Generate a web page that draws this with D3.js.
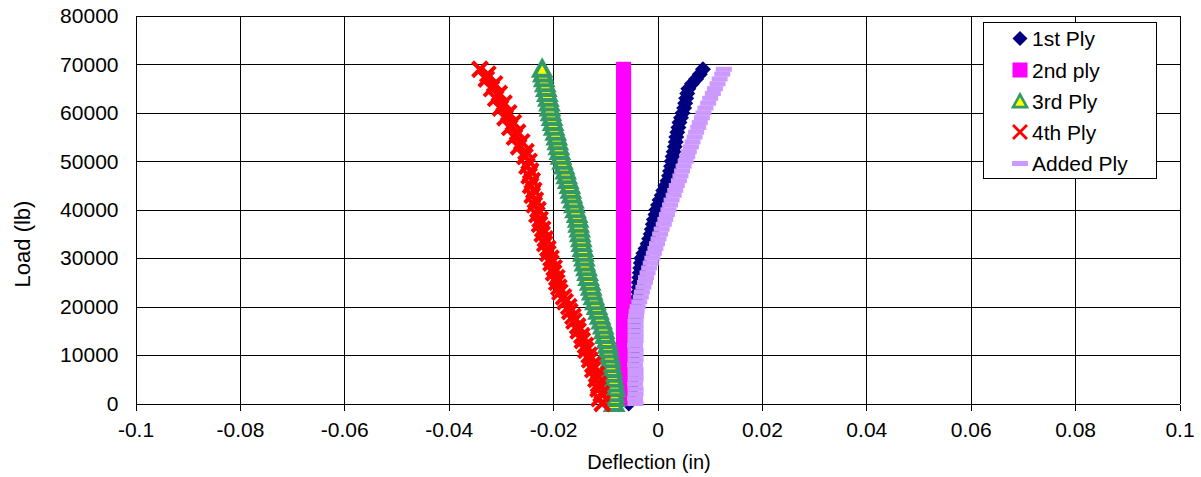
<!DOCTYPE html>
<html>
<head>
<meta charset="utf-8">
<script src="https://cdn.jsdelivr.net/npm/d3@7"></script>
<style>
  html, body { margin: 0; padding: 0; background: #fff; }
  svg { display: block; font-family: "Liberation Sans", Arial, sans-serif; }
</style>
</head>
<body>
<svg id="chart" width="1201" height="477"></svg>
<script>
// ---- data (load in lb, deflection in in) ----
const loads = [0,1000,2000,3000,4000,5000,6000,7000,8000,9000,10000,11000,12000,13000,14000,15000,16000,17000,18000,19000,
  20000,21000,22000,23000,24000,25000,26000,27000,28000,29000,30000,31000,32000,33000,34000,35000,36000,37000,38000,39000,
  40000,41000,42000,43000,44000,45000,46000,47000,48000,49000,50000,51000,52000,53000,54000,55000,56000,57000,58000,59000,
  60000,61000,62000,63000,64000,65000,66000,67000,68000,69000];

const ply1 = [-0.0055,-0.0052,-0.0050,-0.0049,-0.0048,-0.0048,-0.0047,-0.0047,-0.0046,-0.0046,
  -0.0046,-0.0045,-0.0045,-0.0044,-0.0044,-0.0044,-0.0043,-0.0043,-0.0042,-0.0042,
  -0.0041,-0.0040,-0.0038,-0.0037,-0.0036,-0.0036,-0.0035,-0.0034,-0.0033,-0.0032,
  -0.0031,-0.0027,-0.0023,-0.0019,-0.0016,-0.0013,-0.0011,-0.0009,-0.0007,-0.0004,
  -0.0002,0.0001,0.0004,0.0008,0.0011,0.0015,0.0019,0.0022,0.0024,0.0026,
  0.0027,0.0029,0.0031,0.0033,0.0035,0.0036,0.0038,0.0040,0.0042,0.0045,
  0.0048,0.0051,0.0053,0.0055,0.0057,0.0059,0.0066,0.0074,0.0081,0.0087];

const loads2 = [1000,2000,3000,4000,5000,6000,7000,8000,9000,10000,11000,12000,13000,14000,15000,16000,17000,18000,19000,
  20000,21000,22000,23000,24000,25000,26000,27000,28000,29000,30000,31000,32000,33000,34000,35000,36000,37000,38000,39000,
  40000,41000,42000,43000,44000,45000,46000,47000,48000,49000,50000,51000,52000,53000,54000,55000,56000,57000,58000,59000,
  60000,61000,62000,63000,64000,65000,66000,67000,68000,69000];
const ply2 = [-0.0065,-0.0065,-0.0065,-0.0065,-0.0065,-0.0065,-0.0065,-0.0065,-0.0065,-0.0065,
  -0.0065,-0.0065,-0.0065,-0.0065,-0.0065,-0.0065,-0.0065,-0.0065,-0.0065,-0.0065,
  -0.0065,-0.0065,-0.0065,-0.0065,-0.0065,-0.0065,-0.0065,-0.0065,-0.0065,-0.0065,
  -0.0065,-0.0065,-0.0065,-0.0065,-0.0065,-0.0065,-0.0065,-0.0065,-0.0065,-0.0065,
  -0.0065,-0.0065,-0.0065,-0.0065,-0.0065,-0.0065,-0.0065,-0.0065,-0.0065,-0.0065,
  -0.0065,-0.0065,-0.0065,-0.0065,-0.0065,-0.0065,-0.0065,-0.0065,-0.0065,-0.0065,
  -0.0065,-0.0065,-0.0065,-0.0065,-0.0065,-0.0065,-0.0065,-0.0065,-0.0065];

const ply3 = [-0.0083,-0.0082,-0.0083,-0.0081,-0.0083,-0.0084,-0.0086,-0.0087,-0.0089,-0.0090,
  -0.0092,-0.0094,-0.0095,-0.0097,-0.0100,-0.0102,-0.0104,-0.0107,-0.0110,-0.0113,
  -0.0116,-0.0119,-0.0122,-0.0125,-0.0127,-0.0129,-0.0132,-0.0134,-0.0136,-0.0139,
  -0.0140,-0.0142,-0.0143,-0.0145,-0.0146,-0.0148,-0.0149,-0.0151,-0.0152,-0.0154,
  -0.0157,-0.0159,-0.0161,-0.0164,-0.0166,-0.0168,-0.0171,-0.0174,-0.0176,-0.0179,
  -0.0182,-0.0185,-0.0187,-0.0189,-0.0191,-0.0193,-0.0195,-0.0198,-0.0200,-0.0202,
  -0.0204,-0.0206,-0.0207,-0.0209,-0.0211,-0.0213,-0.0215,-0.0217,-0.0219,-0.0221];

const ply4 = [-0.0106,-0.0112,-0.0108,-0.0114,-0.0113,-0.0118,-0.0117,-0.0124,-0.0124,-0.0130,
  -0.0131,-0.0137,-0.0138,-0.0144,-0.0145,-0.0152,-0.0153,-0.0160,-0.0162,-0.0168,
  -0.0170,-0.0177,-0.0180,-0.0187,-0.0189,-0.0193,-0.0193,-0.0199,-0.0198,-0.0204,
  -0.0204,-0.0210,-0.0210,-0.0216,-0.0215,-0.0221,-0.0220,-0.0226,-0.0225,-0.0231,
  -0.0229,-0.0236,-0.0234,-0.0240,-0.0237,-0.0243,-0.0240,-0.0246,-0.0243,-0.0250,
  -0.0246,-0.0254,-0.0252,-0.0266,-0.0260,-0.0274,-0.0268,-0.0283,-0.0276,-0.0292,
  -0.0285,-0.0301,-0.0294,-0.0310,-0.0303,-0.0318,-0.0312,-0.0328,-0.0325,-0.0340];

const plyAdded = [-0.0042,-0.0043,-0.0042,-0.0042,-0.0043,-0.0042,-0.0042,-0.0042,-0.0043,-0.0042,
  -0.0042,-0.0042,-0.0043,-0.0042,-0.0042,-0.0042,-0.0042,-0.0042,-0.0041,-0.0040,
  -0.0038,-0.0035,-0.0032,-0.0030,-0.0027,-0.0024,-0.0022,-0.0019,-0.0016,-0.0013,
  -0.0010,-0.0007,-0.0004,-0.0001,0.0002,0.0005,0.0008,0.0012,0.0015,0.0018,
  0.0021,0.0024,0.0027,0.0031,0.0034,0.0037,0.0041,0.0044,0.0047,0.0050,
  0.0054,0.0057,0.0060,0.0064,0.0067,0.0071,0.0074,0.0078,0.0081,0.0085,
  0.0088,0.0092,0.0097,0.0101,0.0106,0.0110,0.0115,0.0119,0.0124,0.0127];

const seriesNames = ["1st Ply", "2nd ply", "3rd Ply", "4th Ply", "Added Ply"];
const xTicks = [-0.1, -0.08, -0.06, -0.04, -0.02, 0, 0.02, 0.04, 0.06, 0.08, 0.1];
const xTickLabels = ["-0.1", "-0.08", "-0.06", "-0.04", "-0.02", "0", "0.02", "0.04", "0.06", "0.08", "0.1"];
const yTicks = [0, 10000, 20000, 30000, 40000, 50000, 60000, 70000, 80000];
const yTickLabels = ["0", "10000", "20000", "30000", "40000", "50000", "60000", "70000", "80000"];

// ---- layout ----
const svg = d3.select("#chart");
const L = 135.5, R = 1179.5, T = 16, B = 403.5;
const x = d3.scaleLinear().domain([-0.1, 0.1]).range([L, R]);
const y = d3.scaleLinear().domain([0, 80000]).range([B, T]);

svg.append("rect").attr("width", 1201).attr("height", 477).attr("fill", "#fff");

// gridlines
const grid = svg.append("g").attr("stroke", "#000").attr("stroke-width", 1).attr("shape-rendering", "crispEdges");
yTicks.forEach(v => grid.append("line").attr("x1", L).attr("x2", R).attr("y1", Math.round(y(v)) + 0.5).attr("y2", Math.round(y(v)) + 0.5));
xTicks.forEach(v => grid.append("line").attr("y1", T).attr("y2", B).attr("x1", Math.round(x(v)) + 0.5).attr("x2", Math.round(x(v)) + 0.5));

// x axis with ticks
const xAxis = d3.axisBottom(x).tickValues(xTicks).tickSize(6).tickPadding(12)
  .tickFormat((d, i) => xTickLabels[i]);
const gx = svg.append("g").attr("transform", `translate(0,${Math.round(B) + 0.5})`).call(xAxis);
gx.select(".domain").remove();
gx.selectAll(".tick line").attr("stroke", "#000").attr("shape-rendering", "crispEdges");
gx.selectAll(".tick text").attr("font-size", 21).attr("fill", "#000")
  .attr("font-family", "Liberation Sans, Arial, sans-serif");

// y axis labels
const yAxis = d3.axisLeft(y).tickValues(yTicks).tickSize(0).tickPadding(17)
  .tickFormat((d, i) => yTickLabels[i]);
const gy = svg.append("g").attr("transform", `translate(${L},0)`).call(yAxis);
gy.select(".domain").remove();
gy.selectAll(".tick text").attr("font-size", 21).attr("fill", "#000")
  .attr("font-family", "Liberation Sans, Arial, sans-serif");

// axis titles
svg.append("text").attr("x", 649).attr("y", 469).attr("text-anchor", "middle")
  .attr("font-size", 20).text("Deflection (in)");
svg.append("text").attr("transform", "translate(30,244) rotate(-90)").attr("text-anchor", "middle")
  .attr("font-size", 22).text("Load (lb)");

// ---- markers ----
const sym = {
  diamond: s => `M0,${-s}L${s},0L0,${s}L${-s},0Z`,
  square: s => `M${-s},${-s}H${s}V${s}H${-s}Z`,
  triangle: s => `M0,${-s}L${s},${s * 0.8}L${-s},${s * 0.8}Z`,
  cross: s => `M${-s},${-s}L${s},${s}M${s},${-s}L${-s},${s}`,
  dash: s => `M${-s},-2.5H${s}V2.5H${-s}Z`
};
const styles = [
  { name: seriesNames[0], xs: ply1, ys: loads, d: sym.diamond(8), ld: sym.diamond(7.5), fill: "#000080", stroke: "none", sw: 0, lsw: 0 },
  { name: seriesNames[1], xs: ply2, ys: loads2, d: sym.square(7.5), ld: sym.square(7.5), fill: "#FF00FF", stroke: "none", sw: 0, lsw: 0 },
  { name: seriesNames[2], xs: ply3, ys: loads, d: sym.triangle(8), ld: sym.triangle(7), fill: "#FFFF00", stroke: "#339966", sw: 4, lsw: 2.6 },
  { name: seriesNames[3], xs: ply4, ys: loads, d: sym.cross(7.5), ld: sym.cross(7), fill: "none", stroke: "#FF0000", sw: 4, lsw: 2.8 },
  { name: seriesNames[4], xs: plyAdded, ys: loads, d: sym.dash(8), ld: sym.dash(8), fill: "#CC99FF", stroke: "none", sw: 0, lsw: 0 }
];

styles.forEach(s => {
  const g = svg.append("g");
  g.selectAll("path").data(s.xs.map((v, i) => [v, s.ys[i]])).join("path")
    .attr("transform", d => `translate(${x(d[0])},${y(d[1])})`)
    .attr("d", s.d).attr("fill", s.fill).attr("stroke", s.stroke).attr("stroke-width", s.sw)
    .attr("stroke-linejoin", "miter");
});

// ---- legend ----
const lg = svg.append("g");
lg.append("rect").attr("x", 983.5).attr("y", 22.5).attr("width", 173).attr("height", 156)
  .attr("fill", "#fff").attr("stroke", "#000").attr("stroke-width", 1);
const rowY = [38.5, 70, 101.5, 132, 163.5];
styles.forEach((s, i) => {
  lg.append("path").attr("transform", `translate(1020,${rowY[i]})`).attr("d", s.ld)
    .attr("fill", s.fill).attr("stroke", s.stroke).attr("stroke-width", s.lsw);
  lg.append("text").attr("x", 1032).attr("y", rowY[i]).attr("dy", "0.36em")
    .attr("font-size", 21).text(s.name);
});
</script>
</body>
</html>
